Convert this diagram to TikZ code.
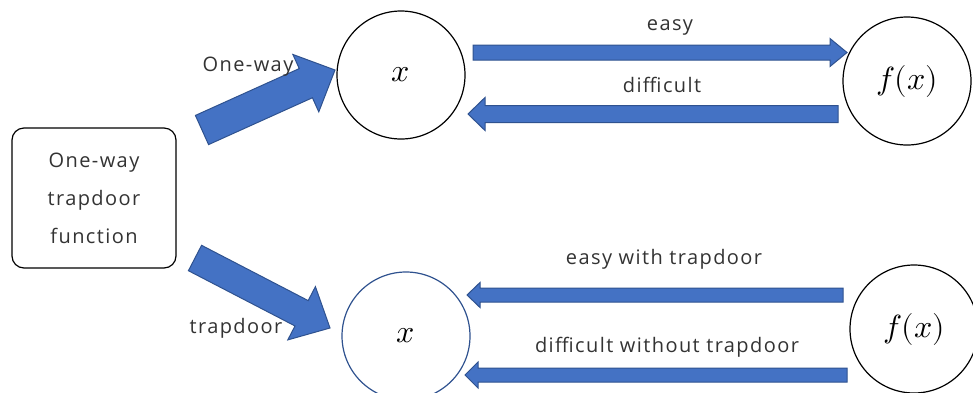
\documentclass[tikz,border=0pt]{standalone}
\usepackage{unicode-math}
\setmathfont{Latin Modern Math}
\setmainfont{Open Sans}[LetterSpace=7]
\usetikzlibrary{calc}
\definecolor{arrowfill}{HTML}{4472C4}
\definecolor{arrowline}{HTML}{2F528F}
% block arrow: tail, tip, half shaft width, half head width, head length
\newcommand{\blockarrow}[5]{%
  \coordinate (ba-h) at ($(#2)!#5!(#1)$);
  \draw[fatarrow] ($(#1)!#3!90:(#2)$) -- ($(ba-h)!#3!-90:(#1)$)
    -- ($(ba-h)!#4!-90:(#1)$) -- (#2) -- ($(ba-h)!#4!90:(#1)$)
    -- ($(ba-h)!#3!90:(#1)$) -- ($(#1)!#3!-90:(#2)$) -- cycle;
}

\begin{document}
\begin{tikzpicture}[x=1pt,y=-1pt,
    fatarrow/.style={fill=arrowfill,draw=arrowline,line width=1pt,line join=miter},
    valnode/.style={circle,draw,line width=1.2pt,minimum size=128pt,inner sep=0pt,
                    font=\fontsize{32}{38}\selectfont},
    lbl/.style={font=\fontsize{20}{24}\selectfont,text=black!80,inner sep=0pt}]
  \useasboundingbox (0,0) rectangle (973,392);

  \node[draw,rounded corners=12pt,line width=1.2pt,minimum width=164pt,minimum height=140pt,
        align=center,text=black!80,font=\fontsize{20}{38}\selectfont]
        (func) at (94,198) {One-way\\trapdoor\\function};

  \node[valnode] (xtop)  at (401,75)  {$x$};
  \node[valnode] (fxtop) at (907,81)  {$f(x)$};
  \node[valnode,draw=arrowline] (xbot) at (406,336) {$x$};
  \node[valnode] (fxbot) at (914,329) {$f(x)$};

  % arrow ends
  \coordinate (ez-a) at (473,52.5);  \coordinate (ez-b) at (847,52.5);
  \coordinate (df-a) at (838,114);   \coordinate (df-b) at (468,114);
  \coordinate (et-a) at (843,295);   \coordinate (et-b) at (467,295);
  \coordinate (dt-a) at (847,375);   \coordinate (dt-b) at (465,375);
  \coordinate (ow-a) at (202,130);   \coordinate (ow-b) at (335,70);
  \coordinate (td-a) at (195,258);   \coordinate (td-b) at (330,328);

  \blockarrow{ez-a}{ez-b}{7.5pt}{14pt}{17pt}
  \blockarrow{df-a}{df-b}{8.5pt}{16.5pt}{17pt}
  \blockarrow{et-a}{et-b}{7pt}{12.5pt}{13pt}
  \blockarrow{dt-a}{dt-b}{7pt}{13pt}{13pt}
  \blockarrow{ow-a}{ow-b}{16pt}{31.5pt}{32pt}
  \blockarrow{td-a}{td-b}{14.3pt}{30pt}{32pt}

  % labels
  \node[lbl] (easy)  at (670,27)  {easy};
  \node[lbl] (diff)  at (662,85)  {difficult};
  \node[lbl] (easyt) at (664,259) {easy with trapdoor};
  \node[lbl] (difft) at (667,347) {difficult without trapdoor};
  \node[lbl] (oneway) at (248,67) {One-way};
  \node[lbl] (trap)  at (236,328) {trapdoor};
\end{tikzpicture}
\end{document}
